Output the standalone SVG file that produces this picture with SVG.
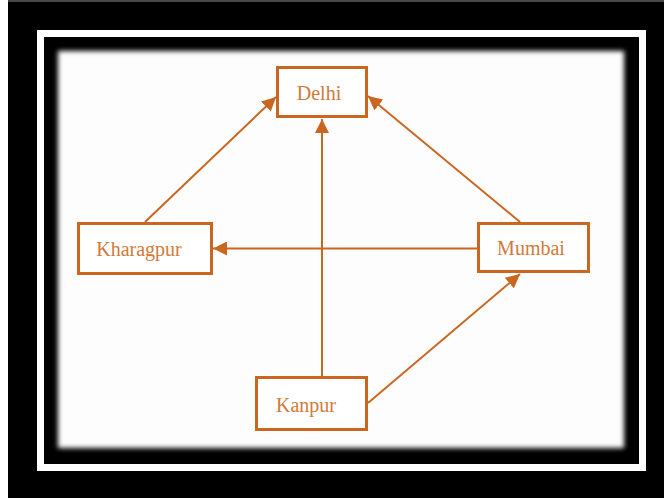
<svg xmlns="http://www.w3.org/2000/svg" width="664" height="498" viewBox="0 0 664 498">
  <defs>
    <style>
      .box { fill: #ffffff; stroke: #c9661f; stroke-width: 3; }
      .lbl { font-family: "Liberation Serif", "Times New Roman", serif; font-size: 20px; fill: #d07a3a; text-anchor: middle; }
      .edge { stroke: #c9661f; stroke-width: 2; fill: none; marker-end: url(#arrow); }
    </style>
    <marker id="arrow" markerUnits="userSpaceOnUse" markerWidth="15" markerHeight="14" refX="14" refY="7" orient="auto">
      <path d="M0,0 L14,7 L0,14 Z" fill="#c9661f"/>
    </marker>
    <filter id="soft" x="-5%" y="-5%" width="110%" height="110%">
      <feGaussianBlur stdDeviation="2.6"/>
    </filter>
  </defs>

  <!-- frame -->
  <rect x="0" y="0" width="664" height="498" fill="#000000"/>
  <rect x="0" y="0" width="664" height="2" fill="#4a4a4a"/>
  <rect x="0" y="0" width="8" height="498" fill="#ffffff"/>
  <rect x="40.5" y="33.5" width="602" height="434" fill="none" stroke="#ffffff" stroke-width="7"/>
  <rect x="58" y="51" width="566" height="397" fill="#fdfdfd" filter="url(#soft)"/>

  <g id="connectors">
    <line class="edge" x1="145" y1="222" x2="276" y2="97"/>
    <line class="edge" x1="520" y1="222" x2="368" y2="96"/>
    <line class="edge" x1="322" y1="376" x2="322" y2="119"/>
    <line class="edge" x1="477" y1="248.5" x2="213" y2="248.5"/>
    <line class="edge" x1="368" y1="403" x2="520" y2="274"/>
  </g>

  <g id="delhi">
    <rect class="box" x="277.5" y="67.5" width="89" height="49"/>
    <text class="lbl" x="319" y="100">Delhi</text>
  </g>
  <g id="kharagpur">
    <rect class="box" x="78.5" y="223.5" width="133" height="50"/>
    <text class="lbl" x="139" y="256">Kharagpur</text>
  </g>
  <g id="mumbai">
    <rect class="box" x="478.5" y="223.5" width="110" height="48"/>
    <text class="lbl" x="531" y="255">Mumbai</text>
  </g>
  <g id="kanpur">
    <rect class="box" x="256.5" y="377.5" width="110" height="52"/>
    <text class="lbl" x="306" y="412">Kanpur</text>
  </g>
</svg>
